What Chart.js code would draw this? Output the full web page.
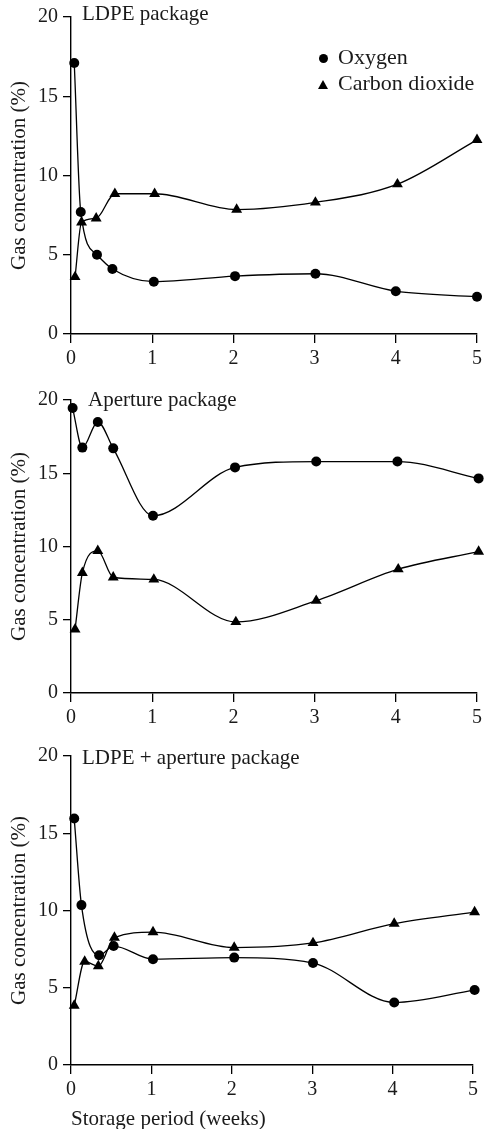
<!DOCTYPE html>
<html>
<head>
<meta charset="utf-8">
<script src="https://cdn.jsdelivr.net/npm/chart.js@4.4.1/dist/chart.umd.min.js"></script>
<style>
  html, body { margin: 0; padding: 0; background: #fff; }
  body { width: 486px; height: 1129px; position: relative; overflow: hidden; font-family: "Liberation Serif", "Times New Roman", serif; color: #000; }
  .panel { position: absolute; left: 0; width: 486px; }
  .lbl { position: absolute; font-size: 21px; line-height: 21px; white-space: nowrap; color: #1a1a1a; }
  .leg { font-size: 22px; line-height: 22px; }
  .dot { position: absolute; width: 9px; height: 9px; border-radius: 50%; background: #000; }
  .tri { position: absolute; width: 0; height: 0; border-left: 5px solid transparent; border-right: 5px solid transparent; border-bottom: 9px solid #000; }
</style>
</head>
<body>
<div class="panel" style="top:0;height:368px"><canvas id="c1" width="486" height="368"></canvas></div>
<div class="panel" style="top:383px;height:345px"><canvas id="c2" width="486" height="345"></canvas></div>
<div class="panel" style="top:739px;height:393px"><canvas id="c3" width="486" height="393"></canvas></div>

<div class="lbl" style="left:82px;top:3px">LDPE package</div>
<div class="lbl" style="left:88px;top:389px">Aperture package</div>
<div class="lbl" style="left:82px;top:747px">LDPE + aperture package</div>

<div class="dot" style="left:319px;top:54px"></div>
<div class="lbl leg" style="left:338px;top:46px">Oxygen</div>
<div class="tri" style="left:318px;top:80px"></div>
<div class="lbl leg" style="left:338px;top:72px">Carbon dioxide</div>

<script>
// ---- data (weeks, gas concentration %) ----
const yTicks = [0, 5, 10, 15, 20];
const xTicks = [0, 1, 2, 3, 4, 5];
const seriesNames = ["Oxygen", "Carbon dioxide"];
const panelTitles = ["LDPE package", "Aperture package", "LDPE + aperture package"];

const ldpeWeeksO2  = [0.04, 0.12, 0.32, 0.51, 1.02, 2.02, 3.01, 4.00, 5.00];
const ldpeO2       = [17.1, 7.7, 5.0, 4.1, 3.3, 3.65, 3.8, 2.7, 2.35];
const ldpeWeeksCO2 = [0.05, 0.13, 0.31, 0.54, 1.03, 2.04, 3.01, 4.02, 5.00];
const ldpeCO2      = [3.6, 7.05, 7.3, 8.85, 8.85, 7.85, 8.3, 9.45, 12.25];

const aperWeeksO2  = [0.02, 0.14, 0.33, 0.52, 1.01, 2.02, 3.02, 4.02, 5.02];
const aperO2       = [19.45, 16.75, 18.5, 16.7, 12.1, 15.4, 15.8, 15.8, 14.65];
const aperWeeksCO2 = [0.05, 0.14, 0.33, 0.52, 1.02, 2.03, 3.02, 4.03, 5.02];
const aperCO2      = [4.35, 8.2, 9.7, 7.9, 7.75, 4.85, 6.3, 8.45, 9.65];

const combWeeksO2  = [0.04, 0.13, 0.35, 0.53, 1.02, 2.03, 3.01, 4.02, 5.02];
const combO2       = [15.95, 10.35, 7.1, 7.7, 6.85, 6.95, 6.6, 4.05, 4.85];
const combWeeksCO2 = [0.04, 0.17, 0.34, 0.54, 1.02, 2.03, 3.01, 4.02, 5.02];
const combCO2      = [3.85, 6.7, 6.4, 8.25, 8.6, 7.6, 7.9, 9.15, 9.9];

const FONT = "'Liberation Serif', 'Times New Roman', serif";

function pts(xs, ys) { return xs.map((x, i) => ({ x: x, y: ys[i] })); }

function makeChart(id, o2, co2, opts) {
  const ds = (name, data, style, r) => ({
    label: name,
    data: data,
    borderColor: '#000',
    backgroundColor: '#000',
    borderWidth: 1.3,
    pointStyle: style,
    pointRadius: r,
    pointHoverRadius: r,
    pointBorderWidth: 0,
    cubicInterpolationMode: 'monotone',
    clip: false
  });
  return new Chart(document.getElementById(id), {
    type: 'line',
    data: {
      datasets: [
        ds(seriesNames[0], o2, 'circle', 5),
        ds(seriesNames[1], co2, 'triangle', 6.3)
      ]
    },
    options: {
      responsive: false,
      animation: false,
      events: [],
      layout: { padding: { top: 11, right: opts.padRight, left: 0, bottom: 0 } },
      plugins: { legend: { display: false }, tooltip: { enabled: false } },
      scales: {
        x: {
          type: 'linear',
          min: 0, max: 5,
          afterBuildTicks: s => { s.ticks = xTicks.map(v => ({ value: v })); },
          afterFit: s => { s.height = opts.xHeight; },
          ticks: { color: '#1a1a1a', padding: 4, font: { family: FONT, size: 20 } },
          grid: { display: true, drawOnChartArea: false, drawTicks: true, tickLength: 9, color: '#000', lineWidth: 1.3 },
          border: { display: true, color: '#000', width: 1.4 },
          title: {
            display: !!opts.xTitle,
            text: opts.xTitle || '',
            align: 'start',
            color: '#1a1a1a',
            font: { family: FONT, size: 21 },
            padding: { top: 0, bottom: 0 }
          }
        },
        y: {
          min: 0, max: 20,
          afterBuildTicks: s => { s.ticks = yTicks.map(v => ({ value: v })); },
          afterFit: s => { s.width = 71; },
          ticks: { color: '#1a1a1a', padding: 5, font: { family: FONT, size: 20 } },
          grid: { display: true, drawOnChartArea: false, drawTicks: true, tickLength: 8, color: '#000', lineWidth: 1.3 },
          border: { display: true, color: '#000', width: 1.4 },
          title: {
            display: true,
            text: 'Gas concentration (%)',
            color: '#1a1a1a',
            font: { family: FONT, size: 21 },
            padding: { top: 7, bottom: 0 }
          }
        }
      }
    }
  });
}

makeChart('c1', pts(ldpeWeeksO2, ldpeO2), pts(ldpeWeeksCO2, ldpeCO2), { padRight: 7, xHeight: 34 });
makeChart('c2', pts(aperWeeksO2, aperO2), pts(aperWeeksCO2, aperCO2), { padRight: 7, xHeight: 35 });
makeChart('c3', pts(combWeeksO2, combO2), pts(combWeeksCO2, combCO2), { padRight: 13, xHeight: 67, xTitle: 'Storage period (weeks)' });
</script>
</body>
</html>
